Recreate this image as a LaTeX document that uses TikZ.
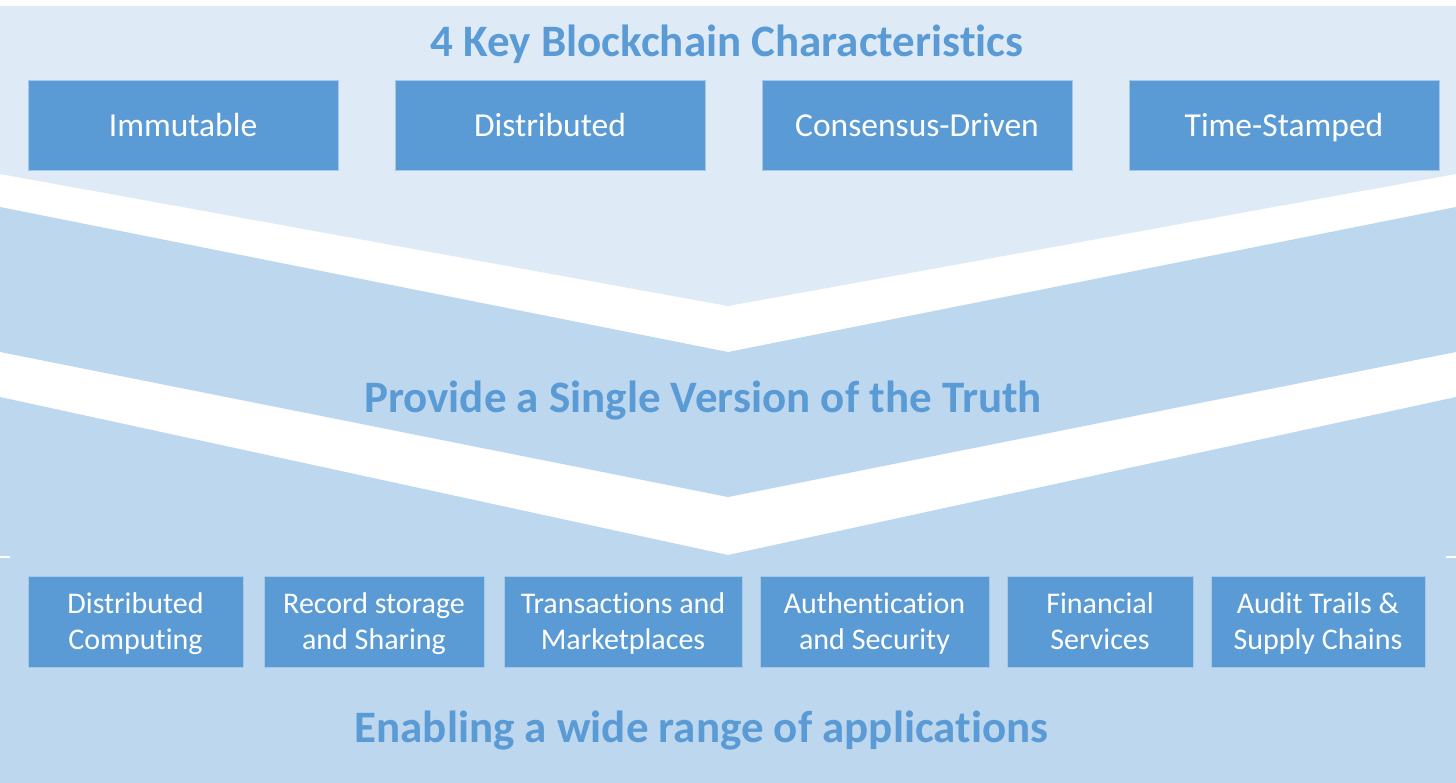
\documentclass[tikz,border=0pt]{standalone}
\usepackage{fontspec}
\setmainfont{Carlito}[Ligatures={NoCommon}]
\definecolor{boxblue}{HTML}{5B9BD5}
\definecolor{paleblue}{HTML}{DEEBF7}
\definecolor{midblue}{HTML}{BDD7EE}

\begin{document}
\begin{tikzpicture}[x=1pt, y=-1pt,
    charbox/.style={fill=boxblue, draw=white!45!boxblue, line width=0.6pt, inner sep=0pt,
        minimum width=310pt, minimum height=90pt, text height=24pt, text depth=0pt,
        text=white, font=\fontsize{33.5}{41}\selectfont},
    appbox/.style={fill=boxblue, draw=white!45!boxblue, line width=0.6pt, inner sep=0pt,
        minimum height=91pt, text height=55pt, text depth=0pt,
        text=white, align=center, font=\fontsize{30}{36}\selectfont},
    heading/.style={anchor=base, text=boxblue, font=\bfseries\fontsize{45}{54}\selectfont}]
            \useasboundingbox (0, 0) rectangle (1456, 783);
            % bands
            \fill[paleblue] (0, 6) -- (1456, 6) -- (1456, 174) -- (728, 306) -- (0, 174) -- cycle;
            \fill[midblue] (0, 207) -- (728, 352) -- (1456, 207) -- (1456, 352) -- (728, 497) -- (0, 352) -- cycle;
            \fill[midblue] (0, 397) -- (728, 555) -- (1456, 397) -- (1456, 783) -- (0, 783) -- cycle;
            \draw[white, line width=1.2pt] (0, 557) -- (10, 557) (1446, 557) -- (1456, 557);
            % characteristics
            \node[heading] (title) at (727, 57) {4 Key Blockchain Characteristics};
            \foreach \name/\x/\txt in {imm/183/Immutable, dist/550/Distributed, cons/917/Consensus-Driven, stamp/1284/Time-Stamped} {
                \node[charbox] (\name) at (\x, 125) {\txt};
            };
            \node[heading] (truth) at (703, 412) {Provide a Single Version of the Truth};
            % applications
            \foreach \name/\x/\w/\txt in {comp/135.5/215/Distributed\\Computing, rec/374/220/Record storage\\and Sharing,
                    trans/623/238/Transactions and\\Marketplaces, auth/874.5/229/Authentication\\and Security,
                    fin/1100/186/Financial\\Services, audit/1318/214/Audit Trails \&\\Supply Chains} {
                \node[appbox, minimum width=\w pt] (\name) at (\x, 621.5) {\txt};
            };
            \node[heading] (apps) at (701.5, 742) {Enabling a wide range of applications};
        \end{tikzpicture}
\end{document}
